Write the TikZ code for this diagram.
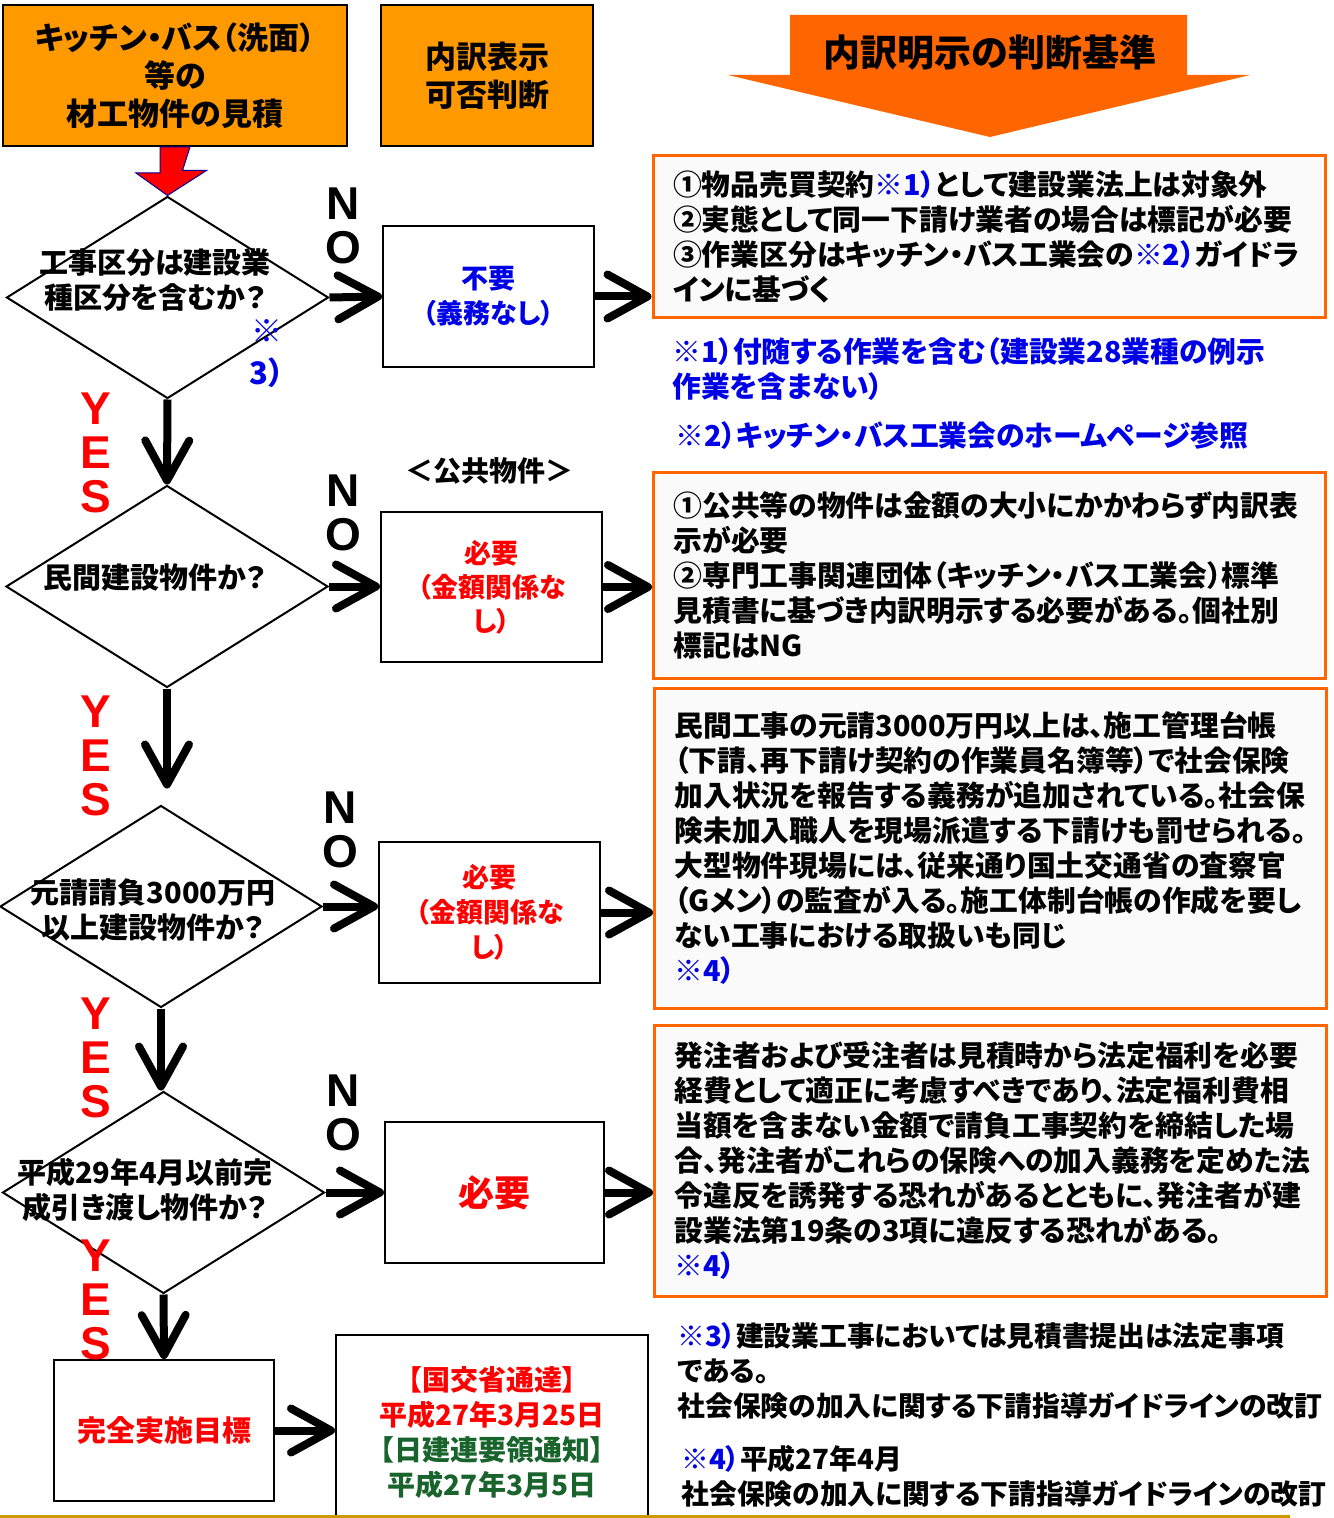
\documentclass[tikz,border=0pt]{standalone}
\usepackage{fontspec}
\setmainfont{Noto Sans CJK JP}[RawFeature=+palt]
\newfontfamily\latin{Liberation Sans}
\usetikzlibrary{shapes.geometric,arrows.meta}
\definecolor{ora}{RGB}{255,153,0}
\definecolor{darkora}{RGB}{255,102,0}
\definecolor{jblue}{RGB}{0,0,230}
\definecolor{jred}{RGB}{255,0,0}
\definecolor{jgreen}{RGB}{25,100,45}
\definecolor{goldline}{RGB}{204,153,0}
\newcommand\fsz[2]{\fontsize{#1}{#2}\selectfont}

\begin{document}
\begin{tikzpicture}[x=0.5pt,y=-0.5pt]
\tikzstyle{every node}=[font=\bfseries]
\tikzstyle{head}=[rectangle,draw,line width=1pt,fill=ora,minimum height=70.5pt,align=center,font=\bfseries\fsz{15.5pt}{19pt}]
\tikzstyle{box}=[rectangle,draw,line width=1pt,minimum height=70.5pt,align=center]
\tikzstyle{crit}=[rectangle,draw=darkora,line width=1.5pt,fill=black!2,text width=316pt,inner xsep=10pt,align=left,font=\bfseries\fsz{14.4pt}{17.5pt}]
\tikzstyle{dia}=[diamond,draw,line width=1pt,minimum width=161pt,minimum height=101pt,inner sep=0pt]
\tikzstyle{qtext}=[align=center,font=\bfseries\fsz{14.5pt}{17.5pt}]
\tikzstyle{note}=[anchor=west,inner sep=0pt,align=left,font=\bfseries\fsz{14.4pt}{17.5pt}]
\tikzstyle{flow}=[line width=4pt,-{Straight Barb[round,length=20pt,width=22pt]}]
\tikzstyle{yn}=[align=center,font=\latin\bfseries\fsz{23pt}{22pt}]
\useasboundingbox (0,0) rectangle (1333,1518);

% headers
\node[head,minimum width=172pt] (kitchen) at (175,75.5) {キッチン・バス（洗面）\\等の\\材工物件の見積};
\node[head,minimum width=106pt] (judge) at (487,75.5) {内訳表示\\可否判断};
\fill[darkora] (790,15) -- (1187,15) -- (1187,75) -- (1250,75) -- (990,137) -- (728,75) -- (790,75) -- cycle;
\node[font=\bfseries\fsz{18.5pt}{20pt}] (basis) at (990,53) {内訳明示の判断基準};

% questions
\node[dia] (scope) at (167.5,297.5) {};
\node[qtext] at (155,280) {工事区分は建設業\\種区分を含むか？};
\node[dia] (private) at (167,586.5) {};
\node[qtext] at (155,578) {民間建設物件か？};
\node[dia] (large) at (161,906.5) {};
\node[qtext] at (153,910) {元請請負3000万円\\以上建設物件か？};
\node[dia] (before) at (163.5,1192.5) {};
\node[qtext] at (145,1190) {平成29年4月以前完\\成引き渡し物件か？};
\node[align=center,text=jblue,font=\bfseries\fsz{15.5pt}{21pt}] (ref3) at (267,354) {※\\3）};

% answers
\node[box,minimum width=105.5pt,text=jblue,font=\bfseries\fsz{13.5pt}{17.5pt}] (nofee) at (488.5,296.5) {不要\\（義務なし）};
\node[font=\bfseries\fsz{14pt}{16pt}] (public) at (489,471) {＜公共物件＞};
\node[box,minimum width=110.5pt,minimum height=75pt,text=jred,font=\bfseries\fsz{13.5pt}{17pt}] (need1) at (491.5,587) {必要\\（金額関係な\\し）};
\node[box,minimum width=110.5pt,text=jred,font=\bfseries\fsz{13.5pt}{17.5pt}] (need2) at (489.5,912.5) {必要\\（金額関係な\\し）};
\node[box,minimum width=109.5pt,text=jred,font=\bfseries\fsz{18pt}{20pt}] (need3) at (494.5,1192.5) {必要};
\node[box,minimum width=110pt,text=jred,font=\bfseries\fsz{14.5pt}{17pt}] (goal) at (164,1430.5) {完全実施目標};
\node[box,minimum width=156pt,minimum height=97.5pt,font=\bfseries\fsz{14pt}{17.5pt}] (notice) at (492,1432.5)
  {\textcolor{jred}{【国交省通達】}\\\textcolor{jred}{平成27年3月25日}\\\textcolor{jgreen}{【日建連要領通知】}\\\textcolor{jgreen}{平成27年3月5日}};

% criteria
\node[crit,minimum height=81pt] (crit1) at (989,237) {①物品売買契約{\color{jblue}※1）}として建設業法上は対象外\\
②実態として同一下請け業者の場合は標記が必要\\
③作業区分はキッチン・バス工業会の{\color{jblue}※2）}ガイドラ\\
インに基づく};
\node[crit,minimum height=103pt] (crit2) at (989.5,575) {①公共等の物件は金額の大小にかかわらず内訳表\\
示が必要\\
②専門工事関連団体（キッチン・バス工業会）標準\\
見積書に基づき内訳明示する必要がある。個社別\\
標記はNG};
\node[crit,minimum height=160pt] (crit3) at (990.5,848) {民間工事の元請3000万円以上は、施工管理台帳\\
（下請、再下請け契約の作業員名簿等）で社会保険\\
加入状況を報告する義務が追加されている。社会保\\
険未加入職人を現場派遣する下請けも罰せられる。\\
大型物件現場には、従来通り国土交通省の査察官\\
（Gメン）の監査が入る。施工体制台帳の作成を要し\\
ない工事における取扱いも同じ\\
{\color{jblue}※4）}};
\node[crit,minimum height=135.5pt] (crit4) at (990.5,1160.5) {発注者および受注者は見積時から法定福利を必要\\
経費として適正に考慮すべきであり、法定福利費相\\
当額を含まない金額で請負工事契約を締結した場\\
合、発注者がこれらの保険への加入義務を定めた法\\
令違反を誘発する恐れがあるとともに、発注者が建\\
設業法第19条の3項に違反する恐れがある。\\
{\color{jblue}※4）}};

% notes
\node[note,text=jblue] (note1) at (672,369) {※1）付随する作業を含む（建設業28業種の例示\\作業を含まない）};
\node[note,text=jblue] (note2) at (675,436) {※2）キッチン・バス工業会のホームページ参照};
\node[note,font=\bfseries\fsz{13.9pt}{17.5pt}] (note3) at (677,1371) {{\color{jblue}※3）}建設業工事においては見積書提出は法定事項\\である。\\社会保険の加入に関する下請指導ガイドラインの改訂};
\node[note,font=\bfseries\fsz{13.9pt}{17.5pt}] (note4) at (681,1476.5) {{\color{jblue}※4）}平成27年4月\\社会保険の加入に関する下請指導ガイドラインの改訂};

% yes / no
\node[yn,text=jred] (yes1) at (96,453) {Y\\E\\S};
\node[yn,text=jred] (yes2) at (96,756) {Y\\E\\S};
\node[yn,text=jred] (yes3) at (96,1058) {Y\\E\\S};
\node[yn,text=jred] (yes4) at (96,1300) {Y\\E\\S};
\node[yn] (no1) at (343,226) {N\\O};
\node[yn] (no2) at (343,513) {N\\O};
\node[yn] (no3) at (340,830) {N\\O};
\node[yn] (no4) at (343,1113) {N\\O};

% arrows
\filldraw[fill=red,draw=blue!60!black,line width=0.5pt] ([xshift=-7.5pt]kitchen.south) -- ++(0,26) -- ++(-24,0) -- (scope.north)
  -- ++(39,-25) -- ++(-24,0) -- ([xshift=7.5pt]kitchen.south) -- cycle;
\draw[flow] (scope.south) -- (private.north);
\draw[flow,shorten >=8pt] (private.south) -- (private.south |- large.north);
\draw[flow] (large.south) -- (large.south |- before.north);
\draw[flow] (before.south) -- (goal.north);
\draw[flow] (scope.east) -- (nofee.west);
\draw[flow] (private.east) -- (private.east -| need1.west);
\draw[flow] (large.east) -- (large.east -| need2.west);
\draw[flow] (before.east) -- (need3.west);
\draw[flow] (nofee.east) -- (nofee.east -| crit1.west);
\draw[flow] (need1.east) -- (need1.east -| crit2.west);
\draw[flow] (need2.east) -- (need2.east -| crit3.west);
\draw[flow] (need3.east) -- (need3.east -| crit4.west);
\draw[flow] (goal.east) -- (goal.east -| notice.west);
\draw[goldline,line width=1.5pt] (0,1516) -- (1290,1516);
\end{tikzpicture}
\end{document}
